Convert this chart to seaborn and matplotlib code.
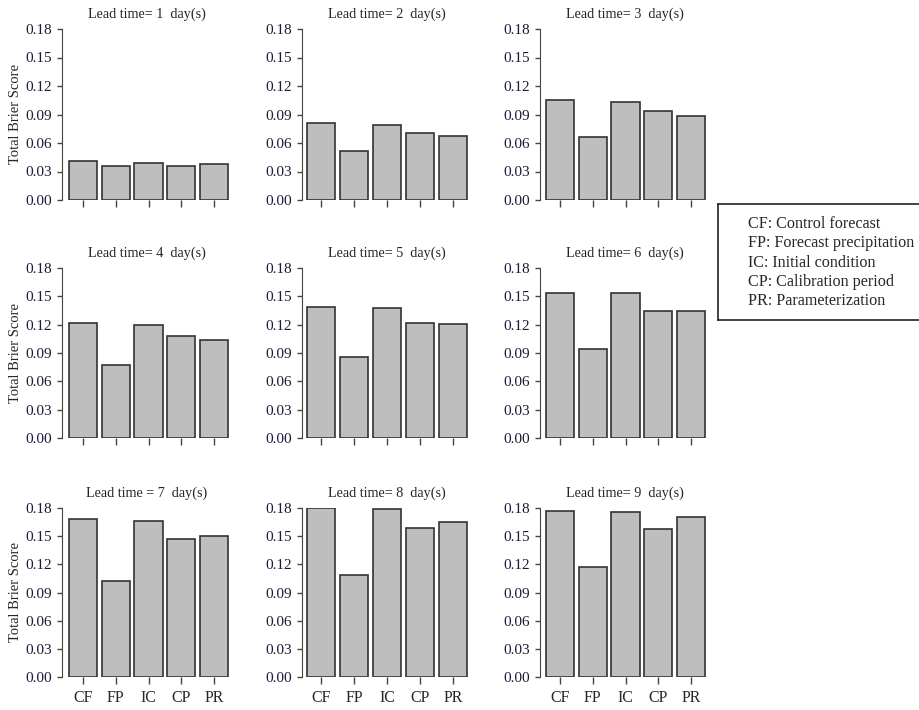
import numpy as np
import pandas as pd
import matplotlib
matplotlib.use("Agg")
import matplotlib.pyplot as plt
import seaborn as sns

# methods and lead times
methods = ["CF", "FP", "IC", "CP", "PR"]
lead_times = [1, 2, 3, 4, 5, 6, 7, 8, 9]

# total Brier score per lead time
bs_lt1 = [0.041, 0.036, 0.039, 0.036, 0.038]
bs_lt2 = [0.081, 0.052, 0.079, 0.071, 0.067]
bs_lt3 = [0.105, 0.066, 0.103, 0.094, 0.088]
bs_lt4 = [0.122, 0.077, 0.120, 0.108, 0.104]
bs_lt5 = [0.139, 0.086, 0.138, 0.122, 0.121]
bs_lt6 = [0.154, 0.094, 0.153, 0.134, 0.134]
bs_lt7 = [0.168, 0.102, 0.166, 0.147, 0.150]
bs_lt8 = [0.180, 0.109, 0.179, 0.159, 0.165]
bs_lt9 = [0.177, 0.117, 0.176, 0.158, 0.170]
scores = [bs_lt1, bs_lt2, bs_lt3, bs_lt4, bs_lt5, bs_lt6, bs_lt7, bs_lt8, bs_lt9]

yticks = [0.00, 0.03, 0.06, 0.09, 0.12, 0.15, 0.18]
legend_lines = ["CF: Control forecast", "FP: Forecast precipitation",
                "IC: Initial condition", "CP: Calibration period",
                "PR: Parameterization"]

sns.set_style("ticks")
plt.rcParams['font.family'] = ['Liberation Serif', 'DejaVu Serif']

W, H = 920, 710
fig = plt.figure(figsize=(W / 100, H / 100), dpi=100)

# pixel layout: (spine x, first bar left, last bar right)
cols = [(62, 69, 228), (302, 307, 467), (540, 546, 705)]
rows = [(29, 200), (268, 438), (508, 677)]
bw = 0.86

for i, lt in enumerate(lead_times):
    r, c = divmod(i, 3)
    sx, b0, b1 = cols[c]
    ytop, ybot = rows[r]
    unit = (b1 - b0) / (4 + bw)
    right = b1 + 4
    wpx = right - sx
    ax = fig.add_axes([sx / W, 1 - ybot / H, wpx / W, (ybot - ytop) / H])
    df = pd.DataFrame({"method": methods, "score": scores[i]})
    sns.barplot(data=df, x="method", y="score", ax=ax, color="#bebebe",
                saturation=1, width=bw, edgecolor="#333333", linewidth=1.2)
    ax.set_xlim(-bw / 2 - (b0 - sx) / unit, 4 + bw / 2 + 4 / unit)
    ax.set_ylim(0, 0.18)
    ax.set_yticks(yticks)
    ax.set_yticklabels(["%.2f" % v for v in yticks], fontsize=11, color="#1a1a3a")
    ax.spines[["top", "right", "bottom"]].set_visible(False)
    ax.spines["left"].set_color("#444444")
    ax.tick_params(axis="both", width=1, color="#444444")
    ax.tick_params(axis="y", length=3.6, pad=3.6)
    ax.tick_params(axis="x", length=5, pad=4, labelsize=11.5)
    if r < 2:
        ax.set_xticklabels([])
    ax.set_xlabel("")
    if c == 0:
        ax.set_ylabel("Total Brier Score", fontsize=10.5)
        ax.yaxis.set_label_coords((22 - sx) / wpx, 0.5)
    else:
        ax.set_ylabel("")
    sep = " = " if lt == 7 else "= "
    ax.set_title("Lead time%s%d  day(s)" % (sep, lt), fontsize=10.2, pad=8)

# legend box
lax = fig.add_axes([718 / W, 1 - 320 / H, 210 / W, 116 / H])
lax.set_xticks([])
lax.set_yticks([])
for s in lax.spines.values():
    s.set_color("#222222")
    s.set_linewidth(1.2)
for k, txt in enumerate(legend_lines):
    lax.text(30 / 210, 1 - (20 + 19.3 * k) / 116, txt, transform=lax.transAxes,
             fontsize=11.6, va="center", ha="left")

fig.savefig("out.png", dpi=100)
